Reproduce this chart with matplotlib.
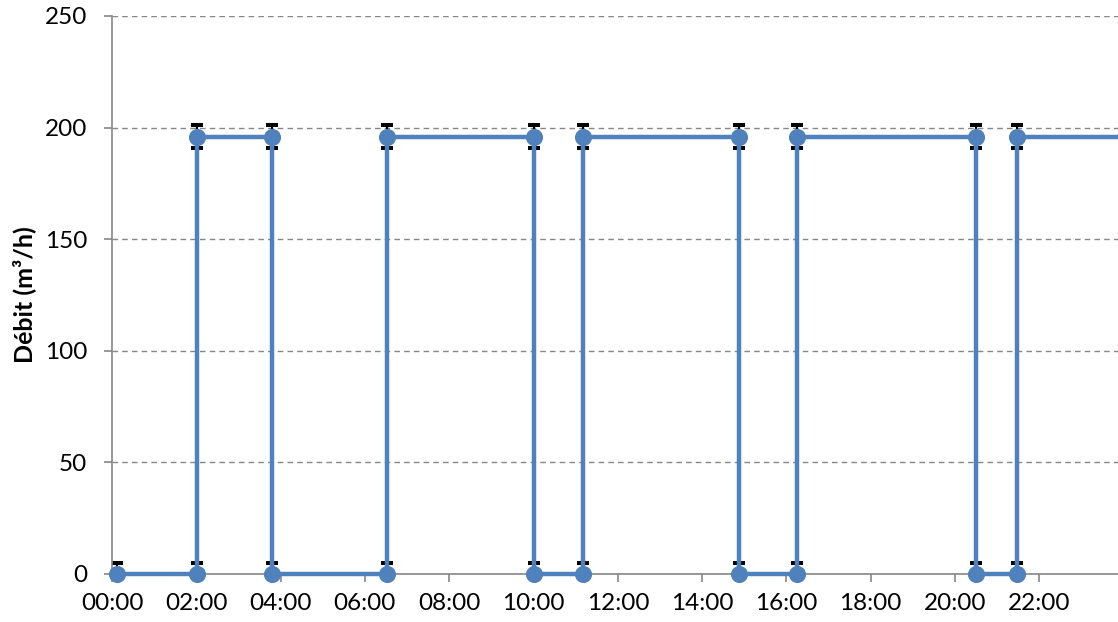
import matplotlib
matplotlib.use("Agg")
import matplotlib.pyplot as plt
import numpy as np

# Switching times (hours) and flow values
times_h = [0.127, 2.02, 2.02, 3.79, 3.79, 6.52, 6.52, 10.0, 10.0, 11.18, 11.18,
           14.88, 14.88, 16.26, 16.26, 20.5, 20.5, 21.48, 21.48, 24.5]
debit = [0, 0, 196, 196, 0, 0, 196, 196, 0, 0, 196, 196, 0, 0, 196, 196, 0, 0, 196, 196]
err = [5] * len(debit)
xtick_h = [0, 2, 4, 6, 8, 10, 12, 14, 16, 18, 20, 22]
xtick_labels = ["00:00", "02:00", "04:00", "06:00", "08:00", "10:00", "12:00",
                "14:00", "16:00", "18:00", "20:00", "22:00"]
yticks = [0, 50, 100, 150, 200, 250]

plt.rcParams['font.family'] = ['Lato', 'DejaVu Sans']

W, H = 1118, 622
fig = plt.figure(figsize=(W / 100, H / 100), dpi=100)
ax = fig.add_axes([112 / W, (H - 574) / H, (W - 112) / W, (574 - 16) / H])

blue = '#4F81BD'
ax.errorbar(times_h, debit, yerr=err, fmt='none', ecolor='black', elinewidth=1.5,
            capsize=4.5, capthick=2.9, zorder=2)
ax.plot(times_h, debit, color=blue, lw=3.2, marker='o', ms=11.3,
        markerfacecolor=blue, markeredgecolor=blue, zorder=3, clip_on=False)

ax.set_xlim(0, (W - 112) / 42.15)
ax.set_ylim(0, 250)
ax.set_yticks(yticks)
ax.set_xticks(xtick_h)
ax.set_xticklabels(xtick_labels)
ax.yaxis.grid(True, linestyle=(0, (4, 3)), color='#868686', lw=1)
ax.set_axisbelow(True)

for s in ['top', 'right']:
    ax.spines[s].set_visible(False)
for s in ['left', 'bottom']:
    ax.spines[s].set_color('#868686')
    ax.spines[s].set_linewidth(1.2)
ax.tick_params(axis='both', colors='#868686', length=6, width=1.2, labelsize=17.5,
               labelcolor='black', direction='out')
ax.tick_params(axis='x', pad=8)
ax.tick_params(axis='y', pad=12)

ax.set_ylabel("Débit (m³/h)", fontsize=18, fontweight='bold', labelpad=6)

fig.savefig("out.png", dpi=100)
